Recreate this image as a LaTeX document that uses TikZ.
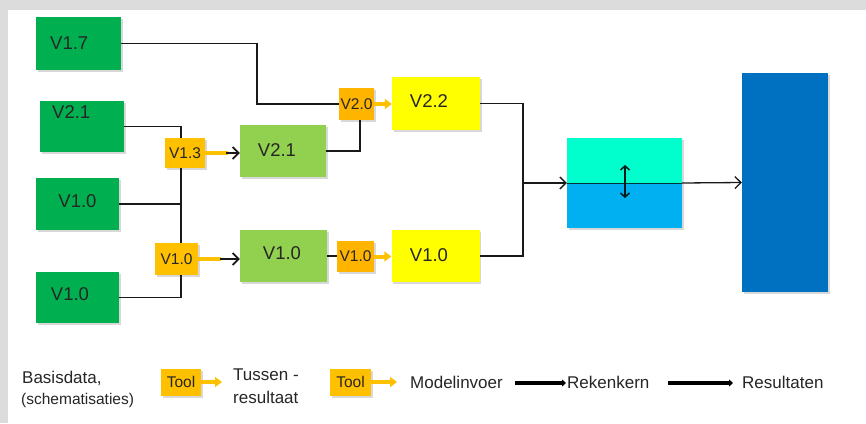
\documentclass[tikz,border=0pt]{standalone}
\usepackage{fontspec}
\setmainfont{Liberation Sans}
\usetikzlibrary{arrows.meta,shadows,calc}
\definecolor{dgreen}{HTML}{00B050}
\definecolor{lgreen}{HTML}{92D050}
\definecolor{yell}{HTML}{FFFF00}
\definecolor{orng}{HTML}{FFC000}
\definecolor{orng2}{HTML}{FFB400}
\definecolor{teal1}{HTML}{00FFCC}
\definecolor{sky}{HTML}{00B0F0}
\definecolor{dblue}{HTML}{0070C0}
\definecolor{frame}{HTML}{DCDCDC}
\definecolor{txt}{HTML}{262626}
\begin{document}
\begin{tikzpicture}[x=1pt,y=-1pt,
  box/.style={draw=none, inner sep=0pt, text=txt,
    drop shadow={shadow xshift=1.5pt, shadow yshift=-2pt, opacity=0.25, fill=black!60}},
  big/.style={font=\fontsize{18.5}{20}\selectfont, text=txt, inner sep=0pt},
  small/.style={font=\fontsize{15.5}{17}\selectfont, text=txt},
  lg/.style={font=\fontsize{17}{19}\selectfont, text=txt, inner sep=0pt},
  conn/.style={draw=black!90, line width=1.3pt},
  arr/.style={conn, -{Straight Barb[length=6pt,width=12pt]}},
  oline/.style={draw=orng, line width=4pt},
  oarr/.style={draw=orng, line width=4pt, -{Triangle[length=7pt,width=10pt]}},
  thick arr/.style={draw=black, line width=4pt, -{Triangle[length=4pt,width=7pt]}}
]
\useasboundingbox (0,0) rectangle (866,423);
\fill[frame] (0,0) rectangle (866,423);
\fill[white] (8,10) rectangle (866,423);

% dark green inputs
\node[box, fill=dgreen, minimum width=85pt, minimum height=53pt] (dg17) at (78.5,43.5) {};
\node[big, anchor=base west] (l17) at (50,49) {V1.7};
\node[box, fill=dgreen, minimum width=84pt, minimum height=51pt] (dg21) at (82,126.5) {};
\node[big, anchor=base west] (l21) at (52,118) {V2.1};
\node[box, fill=dgreen, minimum width=83pt, minimum height=52pt] (dg10a) at (77.5,204) {};
\node[big] (l10a) at (77.5,201.5) {V1.0};
\node[box, fill=dgreen, minimum width=83pt, minimum height=51pt] (dg10b) at (77.5,297.5) {};
\node[big] (l10b) at (70,294) {V1.0};

% tools
\node[box, fill=orng, small, minimum width=40pt, minimum height=30pt] (t13) at (185,153) {V1.3};
\node[box, fill=orng, small, minimum width=43pt, minimum height=32pt] (t10a) at (176.5,259) {V1.0};
\node[box, fill=orng2, small, minimum width=35pt, minimum height=32pt] (t20) at (356.5,104) {V2.0};
\node[box, fill=orng2, small, minimum width=37pt, minimum height=31pt] (t10b) at (355.5,256.5) {V1.0};

% intermediate results
\node[box, fill=lgreen, minimum width=86pt, minimum height=52pt] (lg21) at (283,151) {};
\node[big] (ll21) at (277,150) {V2.1};
\node[box, fill=lgreen, minimum width=87pt, minimum height=52pt] (lg10) at (283.5,256) {};
\node[big] (ll10) at (282,253.5) {V1.0};

% model input
\node[box, fill=yell, minimum width=88pt, minimum height=53pt] (y22) at (436,103.5) {};
\node[big] (ly22) at (429,101.5) {V2.2};
\node[box, fill=yell, minimum width=88pt, minimum height=52pt] (y10) at (435.5,256) {};
\node[big] (ly10) at (429,255.5) {V1.0};

% calculation kernel
\node[box, minimum width=115pt, minimum height=90pt] (split) at (624.5,183) {};
\fill[teal1] (split.north west) rectangle (split.east);
\fill[sky] (split.west) rectangle (split.south east);
\draw[black!60!teal, line width=0.8pt] (split.west) -- (split.east);
\coordinate (da) at (625,165);
\coordinate (db) at (625,198);
\draw[draw=black!80!teal, line width=1.5pt, {Straight Barb[length=4pt,width=9pt]}-{Straight Barb[length=4pt,width=9pt]}] (da) -- (db);

% results
\node[box, fill=dblue, minimum width=86pt, minimum height=219pt] (res) at (785,182.5) {};

% connectors
\coordinate (vx) at (181,0);
\coordinate (j17) at (257,0);
\coordinate (vx2) at (360,0);
\coordinate (jn) at (523,183);
\draw[conn] (dg17.east) -- (dg17.east -| j17) |- (t20.west);
\draw[conn] (dg21.east) -| (t13.north -| vx);
\draw[conn] (dg10a.east) -- (dg10a.east -| vx);
\draw[conn] (t13.south -| vx) -- (t10a.north -| vx);
\draw[conn] (dg10b.east) -| (t10a.south -| vx);
\draw[conn] (lg21.east) -| (t20.south -| vx2);
\draw[conn] (lg10.east) -- (lg10.east -| t10b.west);
\draw[conn] (y22.east) -| (jn);
\draw[conn] (y10.east) -| (jn);
\draw[arr] (jn) -- (split.west);
\draw[arr] (split.east) -- (res.west);

% tool arrows
\coordinate (o13) at ($(lg21.west |- t13.east)+(-12,0)$);
\coordinate (b13) at ($(lg21.west |- t13.east)+(-14,0)$);
\draw[oline] (t13.east) -- (o13);
\draw[arr, line width=1.8pt] (b13) -- (lg21.west |- t13.east);
\coordinate (o10) at ($(lg10.west |- t10a.east)+(-19,0)$);
\coordinate (b10) at ($(lg10.west |- t10a.east)+(-20,0)$);
\draw[oline] (t10a.east) -- (o10);
\draw[arr, line width=1.8pt] (b10) -- (lg10.west |- t10a.east);
\draw[oarr] (t20.east) -- (y22.west |- t20.east);
\draw[oarr] (t10b.east) -- (y10.west |- t10b.east);

% legend
\node[lg, anchor=base west] (bd) at (22,383) {Basisdata,};
\node[small, anchor=base west, inner sep=0pt] (sch) at (21,404) {(schematisaties)};
\node[box, fill=orng, small, minimum width=40pt, minimum height=27pt] (tool1) at (181,382) {Tool};
\coordinate (a1) at (222,382);
\draw[oarr] (tool1.east) -- (a1);
\node[lg, anchor=base west] (tus) at (233,380) {Tussen -};
\node[lg, anchor=base west] (rsl) at (233,403) {resultaat};
\node[box, fill=orng, small, minimum width=41pt, minimum height=27pt] (tool2) at (350.5,382) {Tool};
\coordinate (a2) at (397,382);
\draw[oarr] (tool2.east) -- (a2);
\node[lg, anchor=base west] (mi) at (410,388) {Modelinvoer};
\coordinate (k1) at (515,383);
\coordinate (k2) at (566,383);
\draw[thick arr] (k1) -- (k2);
\node[lg, anchor=base west] (rk) at (567,388) {Rekenkern};
\coordinate (r1) at (668,383);
\coordinate (r2) at (733,383);
\draw[thick arr] (r1) -- (r2);
\node[lg, anchor=base west] (rs) at (742,388) {Resultaten};
\end{tikzpicture}
\end{document}
